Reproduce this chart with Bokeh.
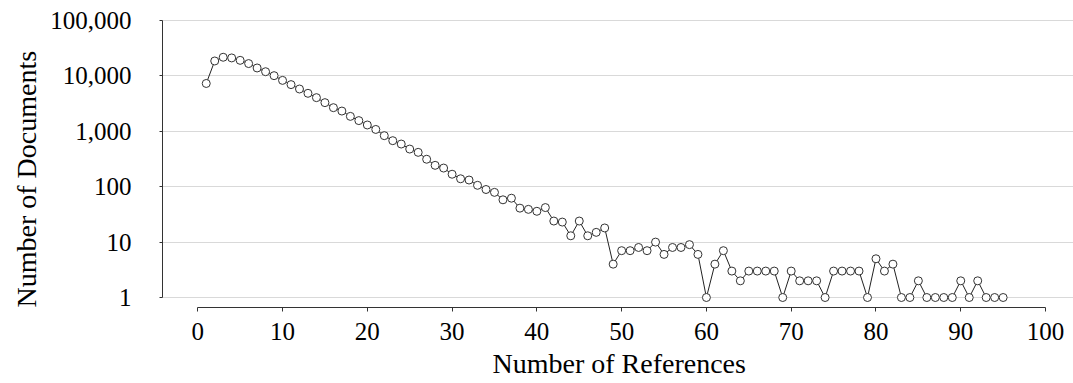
from bokeh.plotting import figure
from bokeh.models import (Range1d, FixedTicker, NumeralTickFormatter, Title,
                          ColumnDataSource)
from bokeh.embed import file_html
from bokeh.resources import INLINE

# ---- data ----
num_refs = list(range(1, 96))
num_docs = [
    7300, 18600, 21700, 21100, 19100, 16700, 13900, 11900, 10100, 8300,
    6960, 5800, 4850, 4050, 3290, 2670, 2320, 1860, 1560, 1300,
    1080, 834, 677, 589, 478, 417, 313, 243, 217, 168,
    139, 132, 106, 89, 79, 58, 62, 41, 39, 36,
    42, 24, 23, 13, 24, 13, 15, 18, 4, 7,
    7, 8, 7, 10, 6, 8, 8, 9, 6, 1,
    4, 7, 3, 2, 3, 3, 3, 3, 1, 3,
    2, 2, 2, 1, 3, 3, 3, 3, 1, 5,
    3, 4, 1, 1, 2, 1, 1, 1, 1, 2,
    1, 2, 1, 1, 1,
]
x_ticks = [0, 10, 20, 30, 40, 50, 60, 70, 80, 90, 100]
y_ticks = [1, 10, 100, 1000, 10000, 100000]
x_title = "Number of References"
y_title = "Number of Documents"

FONT = "Liberation Serif"

src = ColumnDataSource(dict(x=num_refs, y=num_docs))

p = figure(width=1073, height=383, output_backend="svg", toolbar_location=None,
           y_axis_type="log",
           x_range=Range1d(-4.16, 103.3), y_range=Range1d(0.66, 104250),
           min_border_left=162, min_border_right=0, min_border_top=19,
           min_border_bottom=76)
p.outline_line_color = None
p.background_fill_color = "white"
p.border_fill_color = "white"

# grids
p.xgrid.grid_line_color = None
p.ygrid.grid_line_color = "#d9d9d9"
p.ygrid.grid_line_width = 1

# axes
xa = p.xaxis[0]
xa.ticker = FixedTicker(ticks=x_ticks)
xa.bounds = (0, 100)
xa.minor_tick_line_color = None
xa.major_tick_in = 0
xa.major_tick_out = 4
xa.major_label_standoff = 11
xa.major_label_text_font = FONT
xa.major_label_text_font_size = "25px"
xa.major_label_text_color = "black"
xa.axis_line_color = "#333333"
xa.major_tick_line_color = "#333333"

ya = p.yaxis[0]
ya.ticker = FixedTicker(ticks=y_ticks)
ya.formatter = NumeralTickFormatter(format="0,0")
ya.bounds = (1, 100000)
ya.minor_tick_line_color = None
ya.major_tick_in = 0
ya.major_tick_out = 3
ya.major_label_standoff = 28
ya.major_label_text_font = FONT
ya.major_label_text_font_size = "25px"
ya.major_label_text_color = "black"
ya.axis_line_color = "#333333"
ya.major_tick_line_color = "#333333"

# axis titles
p.add_layout(Title(text=x_title, text_font=FONT, text_font_size="28px",
                   text_font_style="normal", align="left", offset=330,
                   standoff=7, text_color="black"), "below")
p.add_layout(Title(text=y_title, text_font=FONT, text_font_size="28px",
                   text_font_style="normal", align="left", offset=0,
                   standoff=12, text_color="black"), "left")

# series
p.line("x", "y", source=src, line_color="#222222", line_width=1)
p.scatter("x", "y", source=src, marker="circle", size=8,
          line_color="#333333", line_width=1, fill_color="white")

open("out.html", "w").write(file_html(p, INLINE))
